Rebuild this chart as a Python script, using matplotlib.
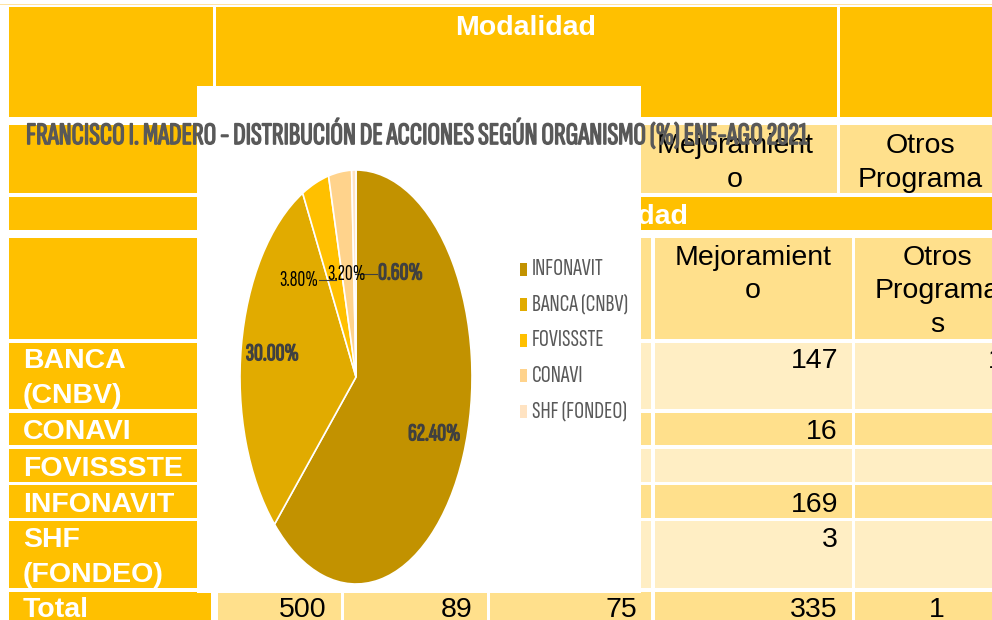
import matplotlib
matplotlib.use("Agg")
import matplotlib.pyplot as plt
from matplotlib import font_manager as fm
from matplotlib.patches import Rectangle
import matplotlib.patheffects as pe
import numpy as np

# ---------------- data ----------------
titulo = "FRANCISCO I. MADERO - DISTRIBUCIÓN DE ACCIONES SEGÚN ORGANISMO (%) ENE-AGO 2021"
organismos = ['INFONAVIT', 'BANCA (CNBV)', 'FOVISSSTE', 'CONAVI', 'SHF (FONDEO)']
porcentajes = [62.4, 30.0, 3.8, 3.2, 0.6]
pie_colors = ['#C29200', '#E1AB00', '#FFC000', '#FFD38C', '#FFE3C2']

encabezado = 'Modalidad'
col_mejoramiento = 'Mejoramient\no'
col_otros_1 = 'Otros\nPrograma'
col_otros_2 = 'Otros\nPrograma\ns'
row_labels = ['BANCA\n(CNBV)', 'CONAVI', 'FOVISSSTE', 'INFONAVIT', 'SHF\n(FONDEO)', 'Total']
mejoramiento = ['147', '16', '', '169', '3', '335']
otros = ['1', '', '', '', '', '1']
total_vals = ['500', '89', '75']

# ---------------- fonts ----------------
def pick(cands, default):
    for c in cands:
        try:
            fm.findfont(fm.FontProperties(family=c), fallback_to_default=False)
            return c
        except Exception:
            pass
    return default

NARROW = pick(['Sofia Sans Extra Condensed', 'Fira Sans Extra Condensed', 'Saira Extra Condensed',
               'Barlow Condensed', 'Roboto Condensed', 'Liberation Sans Narrow', 'Archivo Narrow'],
              'DejaVu Sans')
NSTRETCH = 'condensed' if NARROW == 'DejaVu Sans' else 'normal'
SANS = pick(['Liberation Sans', 'Arimo', 'DejaVu Sans'], 'DejaVu Sans')

ORANGE = '#FFC000'
LIGHT = '#FFE08C'
CREAM = '#FFEEC4'
GRAY = '#595959'

fig = plt.figure(figsize=(9.92, 6.2), dpi=100)
ax = fig.add_axes([0, 0, 1, 1])
ax.set_xlim(0, 992)
ax.set_ylim(620, 0)
ax.axis('off')
R = fig.canvas.get_renderer()

def cell(x0, y0, x1, y1, c):
    ax.add_patch(Rectangle((x0, y0), x1 - x0, y1 - y0, facecolor=c, edgecolor='none', zorder=1))

def lines(x, yb, text, step, **kw):
    for i, ln in enumerate(text.split('\n')):
        ax.text(x, yb + i * step, ln, va='baseline', zorder=3, **kw)

def embolden(t, lw):
    t.set_path_effects([pe.withStroke(linewidth=lw, foreground=t.get_color())])

# ---------------- background spreadsheet ----------------
cell(0, 3.5, 992, 5, '#FFE3A0')
# table 1
cell(9, 7, 213, 117, ORANGE)
cell(216, 7, 837, 117, ORANGE)
cell(840, 7, 1000, 117, ORANGE)
cell(9, 125, 213, 193, ORANGE)
cell(634, 125, 837, 193, LIGHT)
cell(840, 125, 1000, 193, LIGHT)
cell(9, 197, 213, 230, ORANGE)
cell(216, 197, 1000, 230, ORANGE)
# table 2 header
cell(9, 238, 212, 339, ORANGE)
cell(490, 238, 651, 339, LIGHT)
cell(655, 238, 852, 339, LIGHT)
cell(855, 238, 1000, 339, LIGHT)
cols = [(218, 341), (344, 487), (490, 651), (655, 852), (855, 1000)]
row_tops = [343, 413, 449, 485, 521, 592]
row_bots = [409, 445, 482, 518, 588, 625]
for i, (t, b) in enumerate(zip(row_tops, row_bots)):
    cell(9, t, 211, b, ORANGE)
    fill = CREAM if i % 2 == 0 else LIGHT
    for (x0, x1) in cols:
        cell(x0, t, x1, b, fill)

FS = 20.5
hdr = dict(fontsize=FS, family=SANS)
ax.text(526, 35, encabezado, ha='center', va='baseline', color='white', fontweight='bold', zorder=3, **hdr)
lines(735, 153, col_mejoramiento, 34, ha='center', color='black', **hdr)
lines(920, 153, col_otros_1, 34, ha='center', color='black', **hdr)
ax.text(688, 224, encabezado, ha='right', va='baseline', color='white', fontweight='bold', zorder=3, **hdr)
lines(753, 265, col_mejoramiento, 33.5, ha='center', color='black', **hdr)
lines(937, 265, col_otros_2, 33.5, ha='center', color='black', **hdr)

baselines = [368, 439, 476, 512, 547, 617]
for lab, yb, mv in zip(row_labels, baselines, mejoramiento):
    lines(23, yb, lab, 35, ha='left', color='white', fontweight='bold', **hdr)
    if mv:
        lines(838, yb, mv, 35, ha='right', color='black', **hdr)
for i, (ov, yb) in enumerate(zip(otros, baselines)):
    if ov:
        if i == len(otros) - 1:
            lines(937, yb, ov, 35, ha='center', color='black', **hdr)
        else:
            lines(1004, yb, ov, 35, ha='right', color='black', **hdr)
for val, xr in zip(total_vals, [327, 473, 637]):
    lines(xr, baselines[-1], val, 35, ha='right', color='black', **hdr)

# ---------------- chart overlay ----------------
ax.add_patch(Rectangle((197, 86), 444, 507, facecolor='white', edgecolor='none', zorder=5))

def fit(t, target):
    bb = t.get_window_extent(R)
    t.set_fontsize(t.get_fontsize() * target / bb.width)

tt = ax.text(26, 134, titulo, ha='left', va='center', color=GRAY, fontweight='bold',
             family=NARROW, fontstretch=NSTRETCH, fontsize=14, zorder=10)
fit(tt, 782)
embolden(tt, 1.0)

# legend
probe = ax.text(0, 0, organismos[1], family=NARROW, fontstretch=NSTRETCH, fontsize=11)
fit(probe, 96)
s_leg = probe.get_fontsize()
probe.remove()
for i, (name, c) in enumerate(zip(organismos, pie_colors)):
    yc = 269 + i * 35.5
    ax.add_patch(Rectangle((520, yc - 6.5), 7, 13, facecolor=c, edgecolor='none', zorder=10))
    ax.text(532, yc, name, ha='left', va='center', color=GRAY, family=NARROW,
            fontstretch=NSTRETCH, fontsize=s_leg, zorder=10)

# pie
pax = fig.add_axes([240 / 992, 1 - 584 / 620, 232 / 992, 414 / 620], zorder=2)
wedges, _ = pax.pie(porcentajes, colors=pie_colors, startangle=90, counterclock=False,
                    wedgeprops=dict(edgecolor='white', linewidth=1.2))
for w in wedges:
    w.set_clip_on(False)
pax.set_aspect('auto')
pax.set_xlim(-1, 1)
pax.set_ylim(-1, 1)
pax.axis('off')

label_r = [0.73, 0.73, 0.5, 0.5, 0.5]
label_dx = [0, 0, -0.153, -0.017, 0.2]
label_ha = ['center', 'center', 'right', 'center', 'left']
label_bold = [True, True, False, False, True]
leader = [False, False, True, False, True]

probe_b = pax.text(0, 0, '30.00%', fontweight='bold', family=NARROW, fontstretch=NSTRETCH, fontsize=12)
fit(probe_b, 53)
s_b = probe_b.get_fontsize()
probe_b.remove()
probe_r = pax.text(0, 0, '3.80%', family=NARROW, fontstretch=NSTRETCH, fontsize=12)
fit(probe_r, 39)
s_r = probe_r.get_fontsize()
probe_r.remove()

start = 90.0
for p, r, dx, ha, bold, ld in zip(porcentajes, label_r, label_dx, label_ha, label_bold, leader):
    span = 360 * p / 100
    mid = np.deg2rad(start - span / 2)
    start -= span
    xm, ym = r * np.cos(mid), r * np.sin(mid)
    x = xm + dx
    if ld:
        pax.plot([x + (0.01 if ha == 'right' else -0.01), xm], [ym, ym], color='#404040', lw=0.8,
                 clip_on=False, zorder=3)
    t = pax.text(x, ym, f"{p:.2f}%", ha=ha, va='center',
                 color='#404040' if bold else 'black',
                 fontweight='bold' if bold else 'normal',
                 family=NARROW, fontstretch=NSTRETCH,
                 fontsize=s_b if bold else s_r, zorder=4, clip_on=False)
    if bold:
        embolden(t, 0.9)

fig.savefig("out.png", dpi=100)
